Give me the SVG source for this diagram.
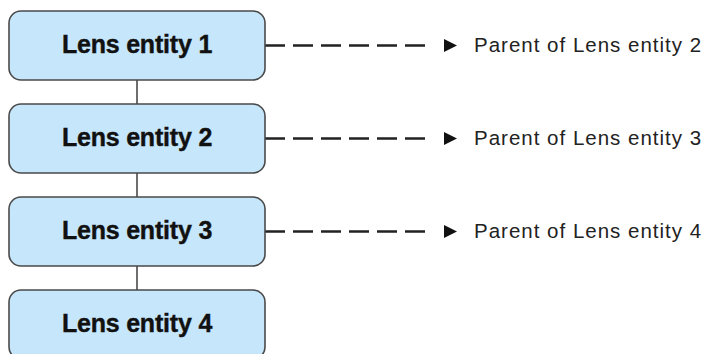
<svg xmlns="http://www.w3.org/2000/svg" width="708" height="354" viewBox="0 0 708 354">
  <style>
    .box { fill: #c6e6fb; stroke: #4a4a4a; stroke-width: 1.6; }
    .name { font-family: "Liberation Sans", Arial, sans-serif; font-weight: bold; font-size: 25px; fill: #111; stroke: #111; stroke-width: 0.4; text-anchor: middle; letter-spacing: -0.2px; }
    .note { font-family: "Liberation Sans", Arial, sans-serif; font-size: 20.5px; fill: #222; letter-spacing: 1px; }
    .link { stroke: #4a4a4a; stroke-width: 1.6; fill: none; }
    .dash { stroke: #222; stroke-width: 2.6; fill: none; stroke-dasharray: 20 8; }
    .head { fill: #111; }
  </style>
  <rect width="708" height="354" fill="#ffffff"/>
  <g id="connectors">
    <line class="link" x1="137" y1="80" x2="137" y2="104"/>
    <line class="link" x1="137" y1="173" x2="137" y2="197"/>
    <line class="link" x1="137" y1="266" x2="137" y2="290"/>
    <line class="dash" x1="265" y1="45.5" x2="426" y2="45.5"/>
    <polygon class="head" points="444,39 457,45.5 444,52"/>
    <line class="dash" x1="265" y1="138.5" x2="426" y2="138.5"/>
    <polygon class="head" points="444,132 457,138.5 444,145"/>
    <line class="dash" x1="265" y1="231.5" x2="426" y2="231.5"/>
    <polygon class="head" points="444,225 457,231.5 444,238"/>
  </g>
  <g id="entity1">
    <rect class="box" x="9" y="11" width="256" height="69" rx="12"/>
    <text class="name" x="137" y="52.5">Lens entity 1</text>
  </g>
  <g id="entity2">
    <rect class="box" x="9" y="104" width="256" height="69" rx="12"/>
    <text class="name" x="137" y="145.5">Lens entity 2</text>
  </g>
  <g id="entity3">
    <rect class="box" x="9" y="197" width="256" height="69" rx="12"/>
    <text class="name" x="137" y="238.5">Lens entity 3</text>
  </g>
  <g id="entity4">
    <rect class="box" x="9" y="290" width="256" height="69" rx="12"/>
    <text class="name" x="137" y="331.5">Lens entity 4</text>
  </g>
  <g id="notes">
    <text class="note" x="474" y="52">Parent of Lens entity 2</text>
    <text class="note" x="474" y="145">Parent of Lens entity 3</text>
    <text class="note" x="474" y="238">Parent of Lens entity 4</text>
  </g>
</svg>
